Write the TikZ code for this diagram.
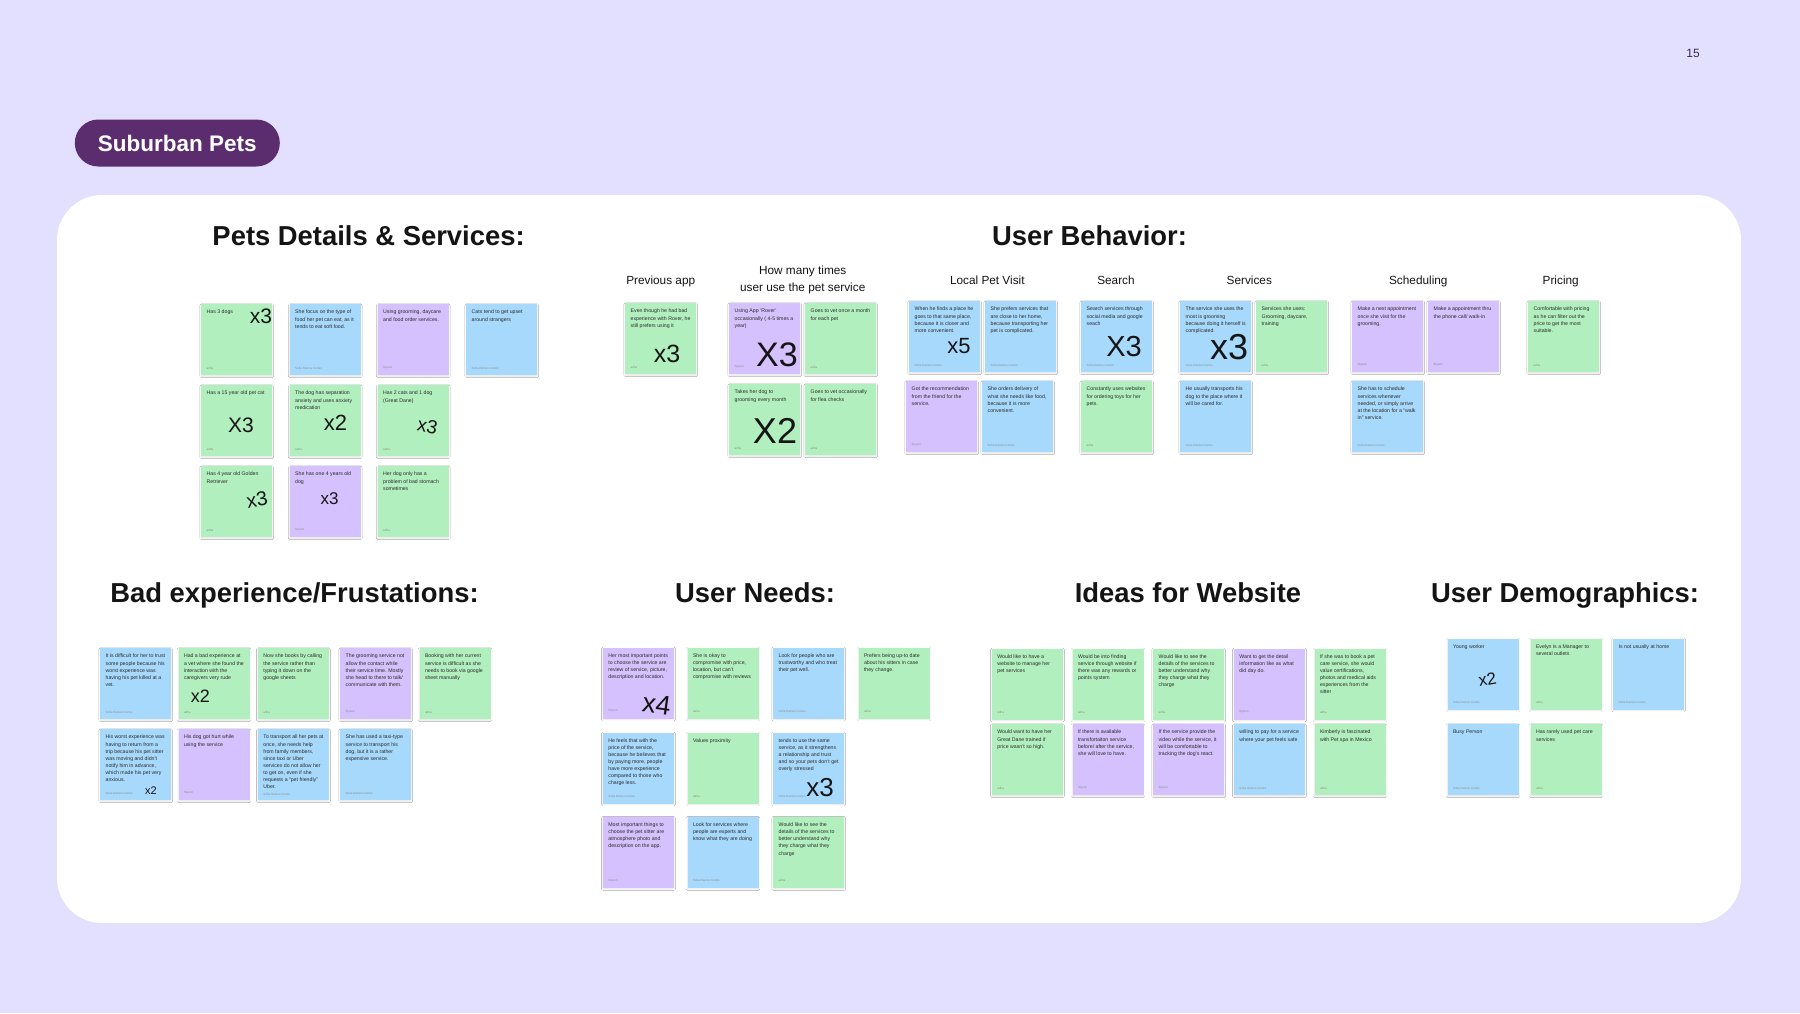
\documentclass[tikz,border=0pt]{standalone}
\usepackage{fontspec}
\setmainfont{Liberation Sans}
\usepackage{tikz}
\usepackage{xcolor}
\usetikzlibrary{positioning, shadows.blur}
\definecolor{PageLav}{HTML}{E2E0FE}
\definecolor{PillPlum}{HTML}{5C2D6E}
\definecolor{PageNum}{HTML}{3B2559}
\definecolor{NoteGreen}{HTML}{B2EFBE}
\definecolor{NoteBlue}{HTML}{A7D9FD}
\definecolor{NotePurple}{HTML}{D4C1FD}
\definecolor{NoteInk}{HTML}{2B2B2B}
\definecolor{NoteMute}{HTML}{8C8C8C}
\definecolor{HandInk}{HTML}{151515}
\definecolor{HeadInk}{HTML}{141414}
\newcommand{\stickytext}[2]{\parbox[t][59pt][t]{60pt}{\raggedright\hyphenpenalty=10000\exhyphenpenalty=10000 #1\par\vfill{\color{NoteMute}\fontsize{3}{3.5}\selectfont #2}}}

\begin{document}
\begin{tikzpicture}[
    x=1pt, y=-1pt,
    note/.style={
      rectangle,
      anchor=north west,
      inner xsep=5.5pt,
      inner ysep=6pt,
      text=NoteInk,
      font=\fontsize{5.2}{7.1}\selectfont,
      blur shadow={shadow xshift=0pt, shadow yshift=-1pt, shadow blur radius=1.4pt, shadow opacity=10},
    },
    gnote/.style={note, fill=NoteGreen},
    bnote/.style={note, fill=NoteBlue},
    pnote/.style={note, fill=NotePurple},
    heading/.style={font=\fontsize{27.4}{30}\selectfont\bfseries, text=HeadInk, anchor=base},
    subhead/.style={font=\fontsize{11.8}{17}\selectfont, text=HeadInk, align=center},
    tally/.style={text=HandInk, inner sep=0pt},
    pill/.style={
      rounded corners=23.5pt,
      fill=PillPlum,
      text=white,
      minimum width=205pt,
      minimum height=47pt,
      font=\fontsize{22.5}{24}\selectfont\bfseries,
    },
  ]
  \useasboundingbox (0,0) rectangle (1800,1013);
  \fill[PageLav] (0,0) rectangle (1800,1013);
  \fill[white, rounded corners=45pt] (57,195) rectangle (1741,923);

  \node[font=\fontsize{12}{14}\selectfont, text=PageNum] (pagenum) at (1693,53) {15};
  \node[pill] (title) at (177.3,143) {Suburban Pets};

  \node[heading] (pdHead) at (368.6,245) {Pets Details \& Services:};
  \node[heading] (ubHead) at (1089.5,245) {User Behavior:};
  \node[heading] (badHead) at (294.5,602) {Bad experience/Frustations:};
  \node[heading] (needHead) at (755,602) {User Needs:};
  \node[heading] (ideaHead) at (1188,602) {Ideas for Website};
  \node[heading] (demoHead) at (1565,602) {User Demographics:};

  \node[subhead, anchor=base] (prevHead) at (660.7,284) {Previous app};
  \node[subhead] (howHead) at (802.7,279.5) {How many times\\user use the pet service};
  \node[subhead, anchor=base] (lpvHead) at (987.3,284) {Local Pet Visit};
  \node[subhead, anchor=base] (srchHead) at (1116,284) {Search};
  \node[subhead, anchor=base] (svcHead) at (1249.3,284) {Services};
  \node[subhead, anchor=base] (schHead) at (1418.3,284) {Scheduling};
  \node[subhead, anchor=base] (prcHead) at (1560.7,284) {Pricing};

  \node[gnote] (pd1) at (201,304) {\stickytext{Has 3 dogs}{adha}};
  \node[bnote] (pd2) at (289.5,304) {\stickytext{She focus on the type of food her pet can eat, as it tends to eat soft food.}{Sofia Ramos Cortés}};
  \node[pnote] (pd3) at (377.5,304) {\stickytext{Using grooming, daycare and food order services.}{Siyeon}};
  \node[bnote] (pd4) at (466,304) {\stickytext{Cats tend to get upset around strangers}{Sofia Ramos Cortés}};
  \node[gnote] (pd5) at (201,385) {\stickytext{Has a 15 year old pet cat}{adha}};
  \node[gnote] (pd6) at (289.5,385) {\stickytext{The dog has separation anxiety and uses anxiety medication}{adha}};
  \node[gnote] (pd7) at (377.5,385) {\stickytext{Has 2 cats and 1 dog (Great Dane)}{adha}};
  \node[gnote] (pd8) at (201,466) {\stickytext{Has 4 year old Golden Retriever}{adha}};
  \node[pnote] (pd9) at (289.5,466) {\stickytext{She has one 4 years old dog}{Siyeon}};
  \node[gnote] (pd10) at (377.5,466) {\stickytext{Her dog only has a problem of bad stomach sometimes}{adha}};

  \node[gnote] (prev1) at (625,303) {\stickytext{Even though he had bad experience with Rover, he still prefers using it}{adha}};
  \node[pnote] (how1) at (729,303) {\stickytext{Using App `Rover' occasionally ( 4-5 times a year)}{Siyeon}};
  \node[gnote] (how2) at (805,303) {\stickytext{Goes to vet once a month for each pet}{adha}};
  \node[gnote] (how3) at (729,384) {\stickytext{Takes her dog to grooming every month}{adha}};
  \node[gnote] (how4) at (805,384) {\stickytext{Goes to vet occasionally for flea checks}{adha}};
  \node[bnote] (lpv1) at (909,301) {\stickytext{When he finds a place he goes to that same place, because it is closer and more convenient.}{Sofia Ramos Cortés}};
  \node[bnote] (lpv2) at (985,301) {\stickytext{She prefers services that are close to her home, because transporting her pet is complicated.}{Sofia Ramos Cortés}};
  \node[pnote] (lpv3) at (906,381) {\stickytext{Got the recommendation from the friend for the service.}{Siyeon}};
  \node[bnote] (lpv4) at (982,381) {\stickytext{She orders delivery of what she needs like food, because it is more convenient.}{Sofia Ramos Cortés}};
  \node[bnote] (srch1) at (1081,301) {\stickytext{Search services through social media and google seach}{Sofia Ramos Cortés}};
  \node[gnote] (srch2) at (1081,381) {\stickytext{Constantly uses websites for ordering toys for her pets.}{adha}};
  \node[bnote] (svc1) at (1180,301) {\stickytext{The service she uses the most is grooming because doing it herself is complicated.}{Sofia Ramos Cortés}};
  \node[gnote] (svc2) at (1256,301) {\stickytext{Services she uses: Grooming, daycare, training}{adha}};
  \node[bnote] (svc3) at (1180,381) {\stickytext{He usually transports his dog to the place where it will be cared for.}{Sofia Ramos Cortés}};
  \node[pnote] (sch1) at (1352,301) {\stickytext{Make a next appointment once she visit for the grooming.}{Siyeon}};
  \node[pnote] (sch2) at (1428,301) {\stickytext{Make a appointment thru the phone call/ walk-in}{Siyeon}};
  \node[bnote] (sch3) at (1352,381) {\stickytext{She has to schedule services whenever needed, or simply arrive at the location for a ``walk in'' service.}{Sofia Ramos Cortés}};
  \node[gnote] (prc1) at (1528,301) {\stickytext{Comfortable with pricing as he can filter out the price to get the most suitable.}{adha}};

  \node[bnote] (bad1) at (100,648) {\stickytext{It is difficult for her to trust some people because his worst experience was having his pet killed at a vet.}{Sofia Ramos Cortés}};
  \node[gnote] (bad2) at (178.3,648) {\stickytext{Had a bad experience at a vet where she found the interaction with the caregivers very rude}{adha}};
  \node[gnote] (bad3) at (257.7,648) {\stickytext{Now she books by calling the service rather than typing it down on the google sheets}{adha}};
  \node[pnote] (bad4) at (340,648) {\stickytext{The grooming service not allow the contact while their service time. Mostly she head to there to talk/ communicate with them.}{Siyeon}};
  \node[gnote] (bad5) at (419.3,648) {\stickytext{Booking with her current service is difficult as she needs to book via google sheet manually}{adha}};
  \node[bnote] (bad6) at (100,729) {\stickytext{His worst experience was having to return from a trip because his pet sitter was moving and didn't notify him in advance, which made his pet very anxious.}{Sofia Ramos Cortés}};
  \node[pnote] (bad7) at (178.3,729) {\stickytext{His dog got hurt while using the service}{Siyeon}};
  \node[bnote] (bad8) at (257.7,729) {\stickytext{To transport all her pets at once, she needs help from family members, since taxi or Uber services do not allow her to get on, even if she requests a ``pet friendly'' Uber.}{Sofia Ramos Cortés}};
  \node[bnote] (bad9) at (340,729) {\stickytext{She has used a taxi-type service to transport his dog, but it is a rather expensive service.}{Sofia Ramos Cortés}};

  \node[pnote] (need1) at (602.7,647.3) {\stickytext{Her most important points to choose the service are review of service, picture, description and location.}{Siyeon}};
  \node[gnote] (need2) at (687.3,647.3) {\stickytext{She is okay to compromise with price, location, but can't compromise with reviews}{adha}};
  \node[bnote] (need3) at (773,647.3) {\stickytext{Look for people who are trustworthy and who treat their pet well.}{Sofia Ramos Cortés}};
  \node[gnote] (need4) at (858.3,647.3) {\stickytext{Prefers being up-to date about his sitters in case they change.}{adha}};
  \node[bnote] (need5) at (602.7,732.3) {\stickytext{He feels that with the price of the service, because he believes that by paying more, people have more experience compared to those who charge less.}{Sofia Ramos Cortés}};
  \node[gnote] (need6) at (687.3,732.3) {\stickytext{Values proximity}{adha}};
  \node[bnote] (need7) at (773,732.3) {\stickytext{tends to use the same service, as it strengthens a relationship and trust and so your pets don't get overly stressed}{Sofia Ramos Cortés}};
  \node[pnote] (need8) at (602.7,816.7) {\stickytext{Most important things to choose the pet sitter are atmosphere photo and description on the app.}{Siyeon}};
  \node[bnote] (need9) at (687.3,816.7) {\stickytext{Look for services where people are experts and know what they are doing}{Sofia Ramos Cortés}};
  \node[gnote] (need10) at (773,816.7) {\stickytext{Would like to see the details of the services to better understand why they charge what they charge}{adha}};

  \node[gnote] (idea1) at (991.7,648.3) {\stickytext{Would like to have a website to manage her pet services}{adha}};
  \node[gnote] (idea2) at (1072.3,648.3) {\stickytext{Would be into finding service through website if there was any rewards or points system}{adha}};
  \node[gnote] (idea3) at (1153,648.3) {\stickytext{Would like to see the details of the services to better understand why they charge what they charge}{adha}};
  \node[pnote] (idea4) at (1233.7,648.3) {\stickytext{Want to get the detail information like as what did day do.}{Siyeon}};
  \node[gnote] (idea5) at (1314.3,648.3) {\stickytext{If she was to book a pet care service, she would value certifications, photos and medical aids experiences from the sitter}{adha}};
  \node[gnote] (idea6) at (991.7,724) {\stickytext{Would want to have her Great Dane trained if price wasn't so high.}{adha}};
  \node[pnote] (idea7) at (1072.3,724) {\stickytext{If there is available transfortaiton service before/ after the service, she will love to have.}{Siyeon}};
  \node[pnote] (idea8) at (1153,724) {\stickytext{If the service provide the video while the service, it will be comfortable to tracking the dog's react.}{Siyeon}};
  \node[bnote] (idea9) at (1233.7,724) {\stickytext{willing to pay for a service where your pet feels safe}{Sofia Ramos Cortés}};
  \node[gnote] (idea10) at (1314.3,724) {\stickytext{Kimberly is fascinated with Pet spa in Mexico}{adha}};

  \node[bnote] (demo1) at (1447.3,638.3) {\stickytext{Young worker}{Sofia Ramos Cortés}};
  \node[gnote] (demo2) at (1530.3,638.3) {\stickytext{Evelyn is a Manager to several outlets}{adha}};
  \node[bnote] (demo3) at (1613,638.3) {\stickytext{Is not usually at home}{Sofia Ramos Cortés}};
  \node[bnote] (demo4) at (1447.3,724) {\stickytext{Busy Person}{Sofia Ramos Cortés}};
  \node[gnote] (demo5) at (1530.3,724) {\stickytext{Has rarely used pet care services}{adha}};

  \node[tally, font=\fontsize{21}{21}\selectfont] (pd1x) at ([shift={(60,12)}]pd1.north west) {x3};
  \node[tally, font=\fontsize{21}{21}\selectfont] (pd5x) at ([shift={(40,40)}]pd5.north west) {X3};
  \node[tally, font=\fontsize{22}{22}\selectfont] (pd6x) at ([shift={(46,38)}]pd6.north west) {x2};
  \node[tally, font=\fontsize{19}{19}\selectfont, rotate=-12] (pd7x) at ([shift={(50,41)}]pd7.north west) {x3};
  \node[tally, font=\fontsize{20}{20}\selectfont, rotate=10] (pd8x) at ([shift={(56,34)}]pd8.north west) {x3};
  \node[tally, font=\fontsize{17}{17}\selectfont] (pd9x) at ([shift={(40,33)}]pd9.north west) {x3};
  \node[tally, font=\fontsize{25}{25}\selectfont] (prev1x) at ([shift={(42,51)}]prev1.north west) {x3};
  \node[tally, font=\fontsize{34}{34}\selectfont] (how1x) at ([shift={(48,52)}]how1.north west) {X3};
  \node[tally, font=\fontsize{36}{36}\selectfont] (how3x) at ([shift={(46,47)}]how3.north west) {X2};
  \node[tally, font=\fontsize{22}{22}\selectfont] (lpv1x) at ([shift={(50,45)}]lpv1.north west) {x5};
  \node[tally, font=\fontsize{29}{29}\selectfont] (srch1x) at ([shift={(43,46)}]srch1.north west) {X3};
  \node[tally, font=\fontsize{36}{36}\selectfont] (svc1x) at ([shift={(49,46)}]svc1.north west) {x3};
  \node[tally, font=\fontsize{18}{18}\selectfont] (bad2x) at ([shift={(22,48)}]bad2.north west) {x2};
  \node[tally, font=\fontsize{11}{11}\selectfont] (bad6x) at ([shift={(51,62)}]bad6.north west) {x2};
  \node[tally, font=\fontsize{27}{27}\selectfont, rotate=-8] (need1x) at ([shift={(54,57)}]need1.north west) {x4};
  \node[tally, font=\fontsize{26}{26}\selectfont] (need7x) at ([shift={(47,55)}]need7.north west) {x3};
  \node[tally, font=\fontsize{17}{17}\selectfont, rotate=10] (demo1x) at ([shift={(40,41)}]demo1.north west) {x2};
\end{tikzpicture}
\end{document}
